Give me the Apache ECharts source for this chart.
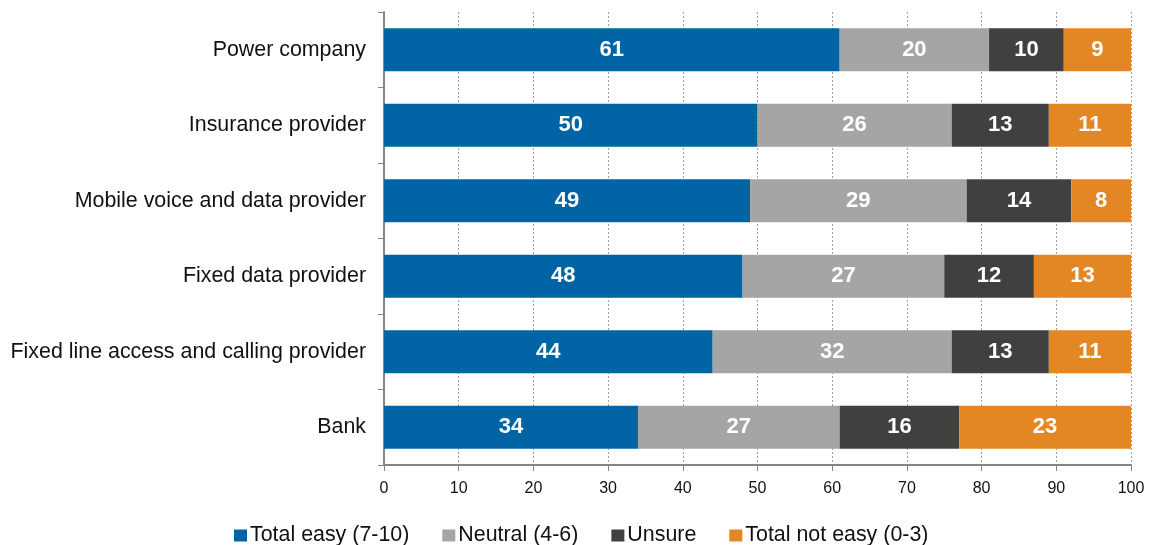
<!DOCTYPE html>
<html>
<head>
<meta charset="utf-8">
<script src="https://cdn.jsdelivr.net/npm/echarts@6/dist/echarts.min.js"></script>
<style>
  html, body { margin: 0; padding: 0; background: #ffffff; }
  #chart { width: 1150px; height: 545px; }
</style>
</head>
<body>
<div id="chart"></div>
<script>
// Providers, listed top to bottom
const categories = [
  'Power company',
  'Insurance provider',
  'Mobile voice and data provider',
  'Fixed data provider',
  'Fixed line access and calling provider',
  'Bank'
];
const seriesNames = ['Total easy (7-10)', 'Neutral (4-6)', 'Unsure', 'Total not easy (0-3)'];
const totalEasy    = [61, 50, 49, 48, 44, 34];
const neutral      = [20, 26, 29, 27, 32, 27];
const unsure       = [10, 13, 14, 12, 13, 16];
const totalNotEasy = [9, 11, 8, 13, 11, 23];
const xTicks = [0, 10, 20, 30, 40, 50, 60, 70, 80, 90, 100];

const colors = ['#0064a5', '#a5a5a5', '#404040', '#e38724'];
const values = [totalEasy, neutral, unsure, totalNotEasy];
const font = '"Liberation Sans", Arial, Helvetica, sans-serif';

const chart = echarts.init(document.getElementById('chart'));

// category axis runs bottom-up, so reverse to keep the first provider on top
const rev = a => a.slice().reverse();

chart.setOption({
  animation: false,
  textStyle: { fontFamily: font },
  grid: { left: 384, right: 19, top: 12, bottom: 80, containLabel: false },
  legend: {
    top: 520,
    left: 229,
    itemWidth: 13,
    itemHeight: 12,
    itemGap: 33,
    icon: 'rect',
    textStyle: { fontSize: 21.4, color: '#111', fontFamily: font, padding: [0, 0, 0, -2] },
    data: seriesNames
  },
  xAxis: {
    type: 'value',
    min: xTicks[0],
    max: xTicks[xTicks.length - 1],
    interval: 10,
    axisLine: { show: true, lineStyle: { color: '#868686', width: 2 } },
    axisTick: { show: true, length: 6, lineStyle: { color: '#868686', width: 1 } },
    axisLabel: { fontSize: 16, color: '#111', margin: 16, fontFamily: font },
    splitLine: { show: true, lineStyle: { color: '#a0a0a0', type: [2, 2], width: 1 } }
  },
  yAxis: {
    type: 'category',
    data: rev(categories),
    axisLine: { show: true, lineStyle: { color: '#868686', width: 2 } },
    axisTick: { show: true, length: 6, alignWithLabel: false, lineStyle: { color: '#868686', width: 1 } },
    axisLabel: { fontSize: 21.4, color: '#111', margin: 18, fontFamily: font },
    splitLine: { show: false }
  },
  series: seriesNames.map((name, i) => ({
    name,
    type: 'bar',
    stack: 'total',
    barWidth: 43,
    data: rev(values[i]),
    itemStyle: { color: colors[i] },
    label: {
      show: true,
      position: 'inside',
      color: '#ffffff',
      fontSize: 22,
      fontWeight: 'bold',
      fontFamily: font
    }
  }))
});
</script>
</body>
</html>
